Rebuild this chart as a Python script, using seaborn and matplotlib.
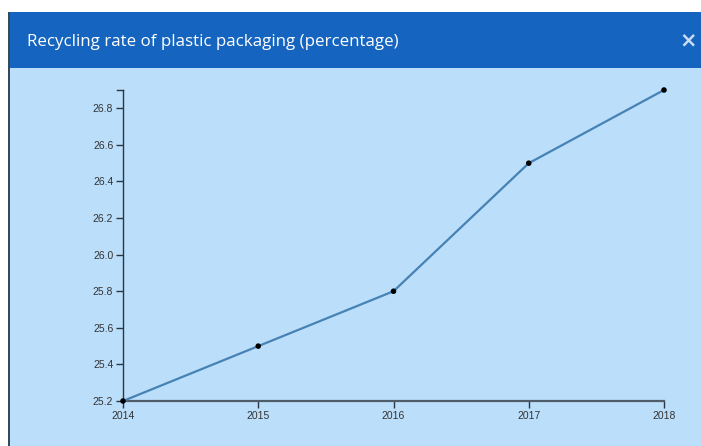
import matplotlib
matplotlib.use("Agg")
import matplotlib.pyplot as plt
from matplotlib.patches import Rectangle
import seaborn as sns
import pandas as pd

years = [2014, 2015, 2016, 2017, 2018]
rates = [25.2, 25.5, 25.8, 26.5, 26.9]
y_ticks = [25.2, 25.4, 25.6, 25.8, 26.0, 26.2, 26.4, 26.6, 26.8]
title = "Recycling rate of plastic packaging (percentage)"

df = pd.DataFrame({"year": years, "rate": rates})

W, H = 701, 446
fig = plt.figure(figsize=(W / 100, H / 100), dpi=100)
fig.patch.set_facecolor("white")

def px_rect(x0, y0, x1, y1, color):
    fig.patches.append(Rectangle((x0 / W, 1 - y1 / H), (x1 - x0) / W, (y1 - y0) / H,
                                 transform=fig.transFigure, facecolor=color,
                                 edgecolor="none", zorder=-5))

# modal panel: body, header, left edge
px_rect(10, 12, W, H, "#BBDEFB")
px_rect(10, 12, W, 68, "#1565C0")
px_rect(8, 12, 10, H, "#34495a")

fig.text(27 / W, 1 - 41.5 / H, title, color="white", fontsize=12.2,
         family="Open Sans", va="center", ha="left")
fig.text(688 / W, 1 - 40 / H, "\u00d7", color="#CADDF2", fontsize=15,
         fontweight="bold", family="DejaVu Sans", va="center", ha="center")

ax = fig.add_axes([123 / W, 1 - 401 / H, (664 - 123) / W, (401 - 90) / H])
ax.set_facecolor("none")

sns.lineplot(data=df, x="year", y="rate", ax=ax, color="#4682B4", linewidth=1.6,
             clip_on=False, zorder=3)
sns.scatterplot(data=df, x="year", y="rate", ax=ax, color="black", s=16,
                edgecolor="none", clip_on=False, zorder=4)

ax.set_xlim(years[0], years[-1])
ax.set_ylim(25.2, max(rates))
ax.set_xticks(years)
ax.set_xticklabels([str(y) for y in years])
ax.set_yticks(y_ticks)
ax.set_yticklabels([f"{v:.1f}" for v in y_ticks])
ax.set_xlabel("")
ax.set_ylabel("")

for s in ["top", "right"]:
    ax.spines[s].set_visible(False)
ax.spines["left"].set_color("#2b3640")
ax.spines["left"].set_linewidth(1.0)
ax.spines["bottom"].set_color("#4f5d6b")
ax.spines["bottom"].set_linewidth(1.6)

ax.tick_params(axis="both", length=5, width=1, color="#2b3640",
               labelsize=7.5, labelcolor="#333333", direction="out")
ax.tick_params(axis="x", pad=2)
ax.tick_params(axis="y", pad=2)
for lab in ax.get_xticklabels() + ax.get_yticklabels():
    lab.set_family("Liberation Sans")

# outer tick at the top of the y domain
ax.plot([-0.011, 0], [1, 1], transform=ax.transAxes, color="#2b3640",
        linewidth=1, clip_on=False)

fig.savefig("out.png", dpi=100)
